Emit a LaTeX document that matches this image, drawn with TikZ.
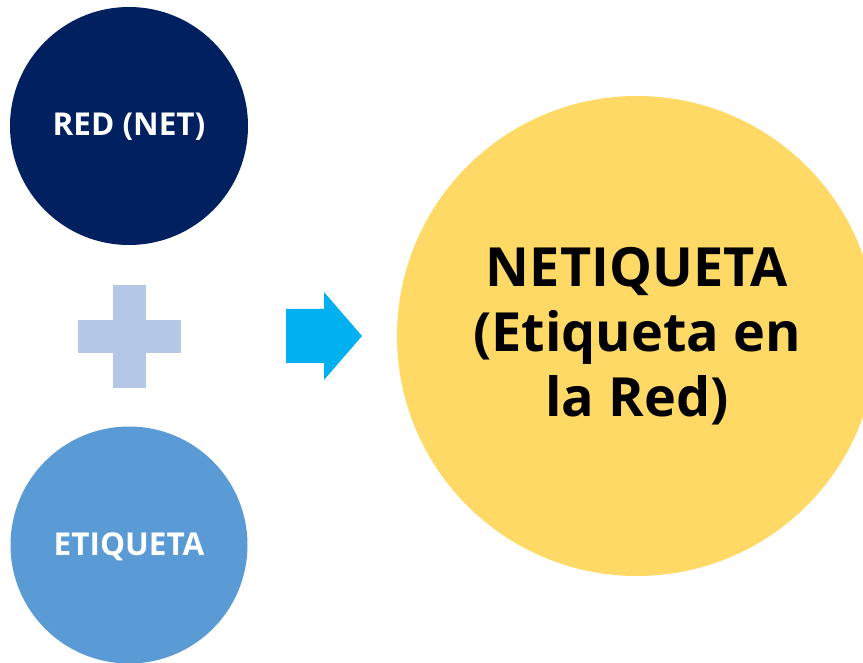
\documentclass[tikz,border=0pt]{standalone}
\usepackage{fontspec}
\setmainfont{Open Sans}
\begin{document}
\begin{tikzpicture}[x=1pt,y=-1pt,
  circ/.style={circle,inner sep=0pt,text=white,font=\bfseries\fontsize{31.5}{36}\selectfont}]
\definecolor{navy}{HTML}{002060}
\definecolor{midblue}{HTML}{5B9BD5}
\definecolor{gold}{HTML}{FFD966}
\definecolor{plusblue}{HTML}{B4C7E7}
\definecolor{cyanarrow}{HTML}{00B0F0}
\useasboundingbox (0,0) rectangle (863,663);
\begin{scope}
\clip (0,0) rectangle (863,663);
\fill[navy] (129,126) circle (119);
\fill[midblue] (129,545) circle (118.5);
\fill[gold] (637,336) circle (240);
\end{scope}
\node[circ] (red) at (129,127) {RED (NET)};
\node[circ] (etq) at (129,547) {ETIQUETA};
% plus
\fill[plusblue] (78,320) rectangle (181,353);
\fill[plusblue] (113,285) rectangle (146,388);
% arrow
\fill[cyanarrow] (286,309) -- (324,309) -- (324,292) -- (362,336) -- (324,380) -- (324,363) -- (286,363) -- cycle;
\node[align=center,font=\bfseries\fontsize{54}{65}\selectfont,text=black,inner sep=0pt] (net) at (637,336) {NETIQUETA\\(Etiqueta en\\la Red)};
\end{tikzpicture}
\end{document}
